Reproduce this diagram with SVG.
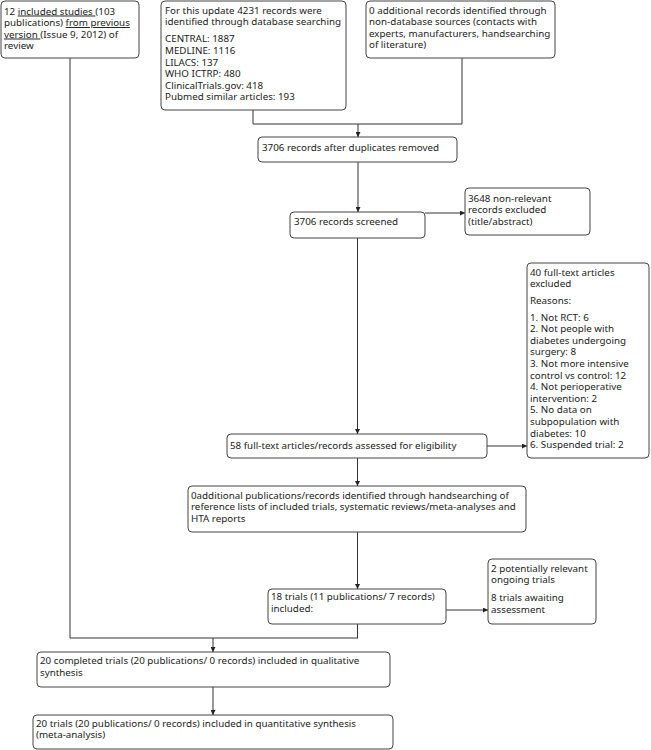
<svg xmlns="http://www.w3.org/2000/svg" width="651" height="750" viewBox="0 0 651 750">
<style>
.box{fill:#fff;stroke:#444;stroke-width:1}
.t{font-family:"Noto Sans","DejaVu Sans","Liberation Sans",sans-serif;font-size:9.8px;fill:#222}
.u{text-decoration:underline}
.ln{fill:none;stroke:#333;stroke-width:1}
</style>
<defs>
<marker id="ah" viewBox="0 0 6 6" refX="6" refY="3" markerWidth="5" markerHeight="5" orient="auto" markerUnits="userSpaceOnUse">
<path d="M0,0 L6,3 L0,6 Z" fill="#222"/>
</marker>
</defs>
<rect width="651" height="750" fill="#fff"/>
<g id="connectors">
<path class="ln" d="M70,58 V638 H358 M357.5,624 V638"/>
<path class="ln" d="M253,110 V124 H462 M462,58 V124"/>
<path class="ln" marker-end="url(#ah)" d="M358,124 V137"/>
<path class="ln" marker-end="url(#ah)" d="M358,162 V212"/>
<path class="ln" marker-end="url(#ah)" d="M425,213 H465"/>
<path class="ln" marker-end="url(#ah)" d="M357.5,238 V434"/>
<path class="ln" marker-end="url(#ah)" d="M487,446 H527"/>
<path class="ln" marker-end="url(#ah)" d="M357.5,458 V486"/>
<path class="ln" marker-end="url(#ah)" d="M357.5,532 V589"/>
<path class="ln" marker-end="url(#ah)" d="M446,610 H488"/>
<path class="ln" marker-end="url(#ah)" d="M213,638 V652"/>
<path class="ln" marker-end="url(#ah)" d="M213,687 V715"/>
</g>
<g id="previous">
<rect class="box" x="1" y="1" width="138" height="57" rx="4"/>
<text class="t"><tspan x="4" y="14.5">12 <tspan class="u">included studies </tspan>(103</tspan><tspan x="4" y="26">publications) <tspan class="u">from previous</tspan></tspan><tspan x="4" y="37.5"><tspan class="u">version </tspan>(Issue 9, 2012) of</tspan><tspan x="4" y="49">review</tspan></text>
</g>
<g id="database">
<rect class="box" x="161" y="1" width="185" height="109" rx="4"/>
<text class="t"><tspan x="165" y="13.5">For this update 4231 records were</tspan><tspan x="165" y="25.3">identified through database searching</tspan><tspan x="165" y="42.3">CENTRAL: 1887</tspan><tspan x="165" y="53.9">MEDLINE: 1116</tspan><tspan x="165" y="65.5">LILACS: 137</tspan><tspan x="165" y="77.1">WHO ICTRP: 480</tspan><tspan x="165" y="88.7">ClinicalTrials.gov: 418</tspan><tspan x="165" y="100.3">Pubmed similar articles: 193</tspan></text>
</g>
<g id="other">
<rect class="box" x="366" y="1" width="189" height="57" rx="4"/>
<text class="t"><tspan x="369" y="13.5">0 additional records identified through</tspan><tspan x="369" y="25.1">non-database sources (contacts with</tspan><tspan x="369" y="36.7">experts, manufacturers, handsearching</tspan><tspan x="369" y="48.3">of literature)</tspan></text>
</g>
<g id="dedup">
<rect class="box" x="258" y="137" width="199" height="25" rx="4"/>
<text class="t" x="262" y="150.5">3706 records after duplicates removed</text>
</g>
<g id="screened">
<rect class="box" x="290" y="212" width="135" height="26" rx="4"/>
<text class="t" x="294" y="225">3706 records screened</text>
</g>
<g id="excluded1">
<rect class="box" x="465" y="188" width="125" height="47" rx="4"/>
<text class="t"><tspan x="468" y="201.8">3648 non-relevant</tspan><tspan x="468" y="213.4">records excluded</tspan><tspan x="468" y="225">(title/abstract)</tspan></text>
</g>
<g id="excluded2">
<rect class="box" x="527" y="263" width="122" height="195" rx="4"/>
<text class="t"><tspan x="530" y="275.5">40 full-text articles</tspan><tspan x="530" y="287.1">excluded</tspan><tspan x="530" y="303.6">Reasons:</tspan><tspan x="530" y="320.5">1. Not RCT: 6</tspan><tspan x="530" y="332.1">2. Not people with</tspan><tspan x="530" y="343.7">diabetes undergoing</tspan><tspan x="530" y="355.3">surgery: 8</tspan><tspan x="530" y="366.9">3. Not more intensive</tspan><tspan x="530" y="378.5">control vs control: 12</tspan><tspan x="530" y="390.1">4. Not perioperative</tspan><tspan x="530" y="401.7">intervention: 2</tspan><tspan x="530" y="413.3">5. No data on</tspan><tspan x="530" y="424.9">subpopulation with</tspan><tspan x="530" y="436.5">diabetes: 10</tspan><tspan x="530" y="448.1">6. Suspended trial: 2</tspan></text>
</g>
<g id="fulltext">
<rect class="box" x="227" y="434" width="260" height="24" rx="4"/>
<text class="t" x="230" y="449">58 full-text articles/records assessed for eligibility</text>
</g>
<g id="handsearch">
<rect class="box" x="188" y="486" width="338" height="46" rx="4"/>
<text class="t"><tspan x="191" y="498.5">0additional publications/records identified through handsearching of</tspan><tspan x="191" y="510">reference lists of included trials, systematic reviews/meta-analyses and</tspan><tspan x="191" y="521.5">HTA reports</tspan></text>
</g>
<g id="trials18">
<rect class="box" x="268" y="589" width="178" height="35" rx="4"/>
<text class="t"><tspan x="271" y="600.3">18 trials (11 publications/ 7 records)</tspan><tspan x="271" y="611.9">included:</tspan></text>
</g>
<g id="ongoing">
<rect class="box" x="488" y="559" width="108" height="65" rx="4"/>
<text class="t"><tspan x="491" y="571.8">2 potentially relevant</tspan><tspan x="491" y="583.4">ongoing trials</tspan><tspan x="491" y="601.2">8 trials awaiting</tspan><tspan x="491" y="612.8">assessment</tspan></text>
</g>
<g id="qualitative">
<rect class="box" x="37" y="652" width="353" height="35" rx="4"/>
<text class="t"><tspan x="40" y="664.2">20 completed trials (20 publications/ 0 records) included in qualitative</tspan><tspan x="40" y="675.8">synthesis</tspan></text>
</g>
<g id="quantitative">
<rect class="box" x="33" y="715" width="360" height="34" rx="4"/>
<text class="t"><tspan x="36" y="726.8">20 trials (20 publications/ 0 records) included in quantitative synthesis</tspan><tspan x="36" y="738.4">(meta-analysis)</tspan></text>
</g>
</svg>
